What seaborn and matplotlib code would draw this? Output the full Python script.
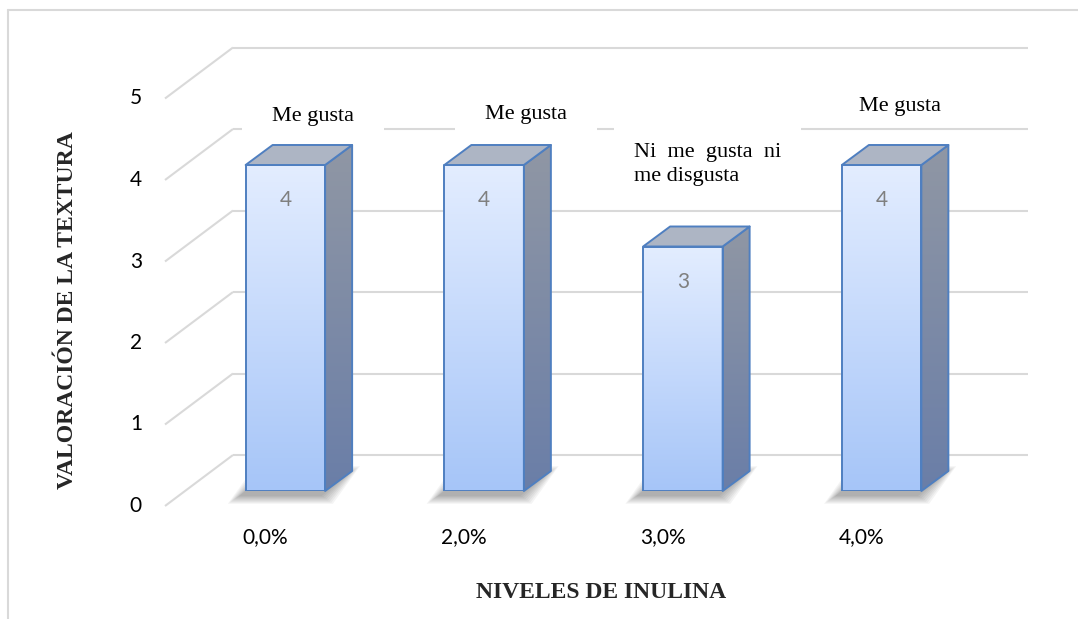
import numpy as np
import pandas as pd
import matplotlib
matplotlib.use("Agg")
import matplotlib.pyplot as plt
import seaborn as sns
from matplotlib.colors import LinearSegmentedColormap
from matplotlib.lines import Line2D
from matplotlib.patches import Polygon
from matplotlib.transforms import offset_copy

# ---- data -------------------------------------------------------------
niveles = ["0,0%", "2,0%", "3,0%", "4,0%"]
valoracion = [4, 4, 3, 4]
escala = ["Me gusta", "Me gusta", "Ni  me  gusta  ni\nme disgusta", "Me gusta"]
y_ticks = [0, 1, 2, 3, 4, 5]

# ---- layout of the scale annotations (pixel offsets from each bar top) --
ann_dx = [28, 42, -49, 18]
ann_dy = [49, 50, 82, 59]
ann_ha = ["center", "center", "left", "center"]
ann_pad = [1.35, 1.35, 0.9, 0.2]

sns.set_theme(style="white")
plt.rcParams["font.family"] = ["Lato", "DejaVu Sans"]

W, H, DPI = 1078, 619, 100
fig = plt.figure(figsize=(W / DPI, H / DPI), dpi=DPI, facecolor="white")
# axes = front plane of the bars
ax = fig.add_axes([186 / W, (H - 491) / H, 795 / W, 407.5 / H])

df = pd.DataFrame({"nivel": niveles, "valor": valoracion})
sns.barplot(data=df, x="nivel", y="valor", width=0.4, color="#c4d9fa",
            saturation=1, errorbar=None, edgecolor="#4f7fc0", linewidth=1.4,
            ax=ax, zorder=4)
ax.set_xlim(-0.5, 3.5)
ax.set_ylim(0, 5)
ax.set_axis_off()


def px(dx, dy):
    """Convert a pixel offset into data units of the bar plane."""
    (x0, y0), (x1, y1) = ax.transData.transform([(0, 0), (1, 1)])
    return dx / (x1 - x0), dy / (y1 - y0)


# ---- walls of the 3-D box: back wall grid and left side wall --------------
wdx, wdy = px(47, 36)
fdx, fdy = px(-21, -15)
grid_kw = dict(color="#d9d9d9", lw=1.5, clip_on=False, zorder=1,
               solid_capstyle="butt")
for v in y_ticks:
    ax.plot([-0.5 + wdx, 3.5 + wdx], [v + wdy] * 2, **grid_kw)
    ax.plot([-0.5 + fdx, -0.5 + wdx], [v + fdy, v + wdy], **grid_kw)

# ---- 3-D bars ---------------------------------------------------------------
bdx, bdy = px(27, 20)
front_cmap = LinearSegmentedColormap.from_list("front", ["#a6c5f8", "#e3edff"])
side_cmap = LinearSegmentedColormap.from_list("side", ["#6a7ea8", "#9097a4"])
grad = np.linspace(0, 1, 256).reshape(-1, 1)
edge = "#4f7fc0"

bars = list(ax.patches)
for bar in bars:
    x0, w, h = bar.get_x(), bar.get_width(), bar.get_height()
    x1 = x0 + w

    # soft floor shadow
    sx, sy = px(-5, -4)
    for s in range(1, 9):
        ex, ey = px(s * 1.6, s * 1.1)
        shadow = Polygon([(x0 - ex + sx, -ey + sy), (x1 + ex + sx, -ey + sy),
                          (x1 + bdx + ex + sx, bdy + ey + sy),
                          (x0 + bdx - ex + sx, bdy + ey + sy)],
                         closed=True, facecolor="black", edgecolor="none",
                         alpha=0.045, zorder=2.5, clip_on=False)
        ax.add_patch(shadow)

    # front face with vertical gradient
    im = ax.imshow(grad, cmap=front_cmap, origin="lower", aspect="auto",
                   extent=[x0, x1, 0, h], interpolation="bilinear", zorder=3.5)
    im.set_clip_path(bar)
    bar.set_facecolor("none")
    bar.set_joinstyle("round")

    # right side face
    side = Polygon([(x1, 0), (x1 + bdx, bdy), (x1 + bdx, h + bdy), (x1, h)],
                   closed=True, facecolor="none", edgecolor=edge, lw=1.4,
                   joinstyle="round", zorder=4, clip_on=False)
    ax.add_patch(side)
    ims = ax.imshow(grad, cmap=side_cmap, origin="lower", aspect="auto",
                    extent=[x1, x1 + bdx, 0, h + bdy], interpolation="bilinear",
                    zorder=3.5)
    ims.set_clip_path(side)
    ims.set_clip_on(True)

    # top face
    top = Polygon([(x0, h), (x1, h), (x1 + bdx, h + bdy), (x0 + bdx, h + bdy)],
                  closed=True, facecolor="#adb5c4", edgecolor=edge, lw=1.4,
                  joinstyle="round", zorder=4, clip_on=False)
    ax.add_patch(top)

ax.set_xlim(-0.5, 3.5)
ax.set_ylim(0, 5)

# ---- value labels inside the bars ------------------------------------------
for i, v in enumerate(valoracion):
    ax.annotate(str(v), xy=(i, v), xytext=(0, -35 * 0.72),
                textcoords="offset points", ha="center", va="center",
                color="#7f7f7f", fontsize=15, zorder=6)

# ---- scale annotations above the bars ---------------------------------------
for i, (v, txt) in enumerate(zip(valoracion, escala)):
    ax.annotate(txt, xy=(i, v), xytext=(ann_dx[i] * 0.72, ann_dy[i] * 0.72),
                textcoords="offset points", ha=ann_ha[i], va="center",
                multialignment="left", linespacing=1.4,
                family="Liberation Serif", fontsize=16, color="black",
                bbox=dict(boxstyle=f"square,pad={ann_pad[i]}", fc="white",
                          ec="none"),
                zorder=2, annotation_clip=False)

# ---- tick labels on the front edges ------------------------------------------
xt = offset_copy(ax.transData, fig, x=-20, y=-46, units="dots")
for i, lab in enumerate(niveles):
    ax.text(i, 0, lab, transform=xt, ha="center", va="center", fontsize=15,
            color="black", clip_on=False)
yt = offset_copy(ax.transData, fig, x=-44, y=-15, units="dots")
for v in y_ticks:
    ax.text(-0.5, v, str(v), transform=yt, ha="right", va="center",
            fontsize=15, color="black", clip_on=False)

# ---- axis titles ----------------------------------------------------------------
fig.text(68 / W, 1 - 310 / H, "VALORACIÓN DE LA TEXTURA", rotation=90,
         ha="center", va="center", fontsize=17, fontweight="bold",
         family="Liberation Serif")
fig.text(601 / W, 1 - 593 / H, "NIVELES DE INULINA", ha="center",
         va="center", fontsize=17, fontweight="bold", family="Liberation Serif")

# ---- chart frame ------------------------------------------------------------------
frame_kw = dict(transform=fig.transFigure, color="#d9d9d9", lw=1.5)
fig.add_artist(Line2D([8 / W, 8 / W], [0, 1 - 10 / H], **frame_kw))
fig.add_artist(Line2D([8 / W, 1], [1 - 10 / H, 1 - 10 / H], **frame_kw))

fig.savefig("out.png", dpi=DPI, facecolor="white")
